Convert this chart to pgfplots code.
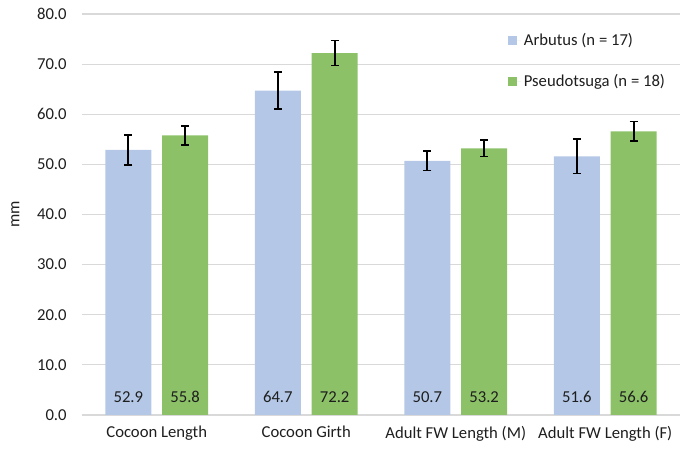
\documentclass[border=0pt]{standalone}
\usepackage{pgfplots}
\pgfplotsset{compat=1.18}
\usepackage{fontspec}
\setmainfont{Carlito}
\definecolor{cblue}{HTML}{B4C7E7}
\definecolor{cgreen}{HTML}{8CC168}
\definecolor{cgrid}{HTML}{D9D9D9}
\definecolor{ctext}{HTML}{1E1E1E}
\begin{document}
\begin{tikzpicture}
\begin{axis}[
  scale only axis,
  width=448.5pt, height=300.75pt,
  ybar, bar width=0.307,
  xmin=-0.5, xmax=3.5, ymin=0, ymax=80,
  xtick={0,1,2,3},
  xticklabels={Cocoon Length, Cocoon Girth, Adult FW Length (M), Adult FW Length (F)},
  ytick={0,10,...,80},
  ymajorgrids, grid style={cgrid, line width=0.9pt},
  axis line style={draw=none},
  major tick length=0pt,
  tick style={draw=none},
  /pgf/number format/.cd, fixed, fixed zerofill, precision=1, assume math mode=true,
  /pgfplots/.cd,
  ticklabel style={font=\fontsize{12.5}{15}\selectfont, text=ctext},
  yticklabel style={xshift=-8pt},
  xticklabel style={yshift=-5pt},
  ylabel={mm},
  every axis y label/.style={at={(axis description cs:0,0.5)}, xshift=-50pt, rotate=90, anchor=center, font=\fontsize{12.5}{15}\selectfont, text=ctext},
  legend style={at={(0.705,0.965)}, anchor=north west, draw=none, fill=none, font=\fontsize{12.5}{15}\selectfont, text=ctext, row sep=16pt, legend cell align=left},
  legend image code/.code={\fill (0pt,-3.4pt) rectangle (6.8pt,3.4pt); \path (0pt,0pt) -- (10pt,0pt);},
  error bars/error mark=|,
  error bars/error bar style={black, line width=1.3pt},
  error bars/error mark options={black, line width=1.3pt, mark size=3pt},
]
\addplot[fill=cblue, draw=none, bar shift=-0.19,
  error bars/.cd, y dir=both, y explicit]
  coordinates {(0,52.9) +- (0,3.0) (1,64.7) +- (0,3.7) (2,50.7) +- (0,1.9) (3,51.6) +- (0,3.4)};
\addlegendentry{Arbutus (n = 17)}
\addplot[fill=cgreen, draw=none, bar shift=0.19,
  error bars/.cd, y dir=both, y explicit]
  coordinates {(0,55.8) +- (0,1.9) (1,72.2) +- (0,2.5) (2,53.2) +- (0,1.65) (3,56.6) +- (0,1.95)};
\addlegendentry{Pseudotsuga (n = 18)}
\addplot[draw=none, fill=none, bar shift=-0.19, forget plot,
  point meta=explicit symbolic, nodes near coords,
  every node near coord/.append style={anchor=center, yshift=13.5pt, font=\fontsize{12.5}{15}\selectfont, text=ctext}]
  coordinates {(0,0)[52.9] (1,0)[64.7] (2,0)[50.7] (3,0)[51.6]};
\addplot[draw=none, fill=none, bar shift=0.19, forget plot,
  point meta=explicit symbolic, nodes near coords,
  every node near coord/.append style={anchor=center, yshift=13.5pt, font=\fontsize{12.5}{15}\selectfont, text=ctext}]
  coordinates {(0,0)[55.8] (1,0)[72.2] (2,0)[53.2] (3,0)[56.6]};
\coordinate (bl) at (rel axis cs:0,0);
\coordinate (tr) at (rel axis cs:1,1);
\end{axis}
\pgfresetboundingbox
\path ([shift={(-61.5pt,-27pt)}]bl) rectangle ([shift={(4.5pt,10.5pt)}]tr);
\end{tikzpicture}
\end{document}
